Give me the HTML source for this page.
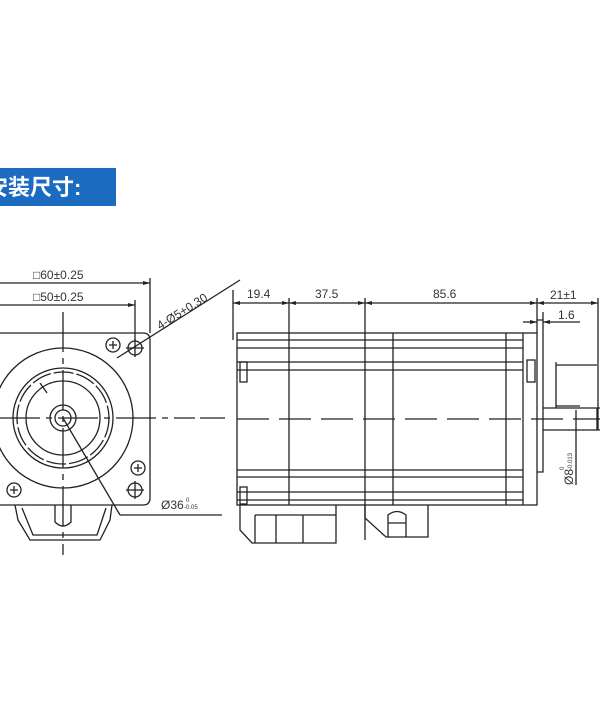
<!DOCTYPE html>
<html><head><meta charset="utf-8"><style>
html,body{margin:0;padding:0;background:#fff;}
svg{display:block;}
text{font-family:"Liberation Sans","DejaVu Sans",sans-serif;fill:#333;}
</style></head><body>
<svg width="600" height="720" viewBox="0 0 600 720" xmlns="http://www.w3.org/2000/svg">
<rect x="0" y="0" width="600" height="720" fill="#fff"/>
<rect x="0" y="168" width="116" height="38" fill="#1b6cc0"/>
<text x="-14" y="195" font-size="22" font-weight="bold" style="fill:#fff;font-family:'Liberation Sans','Noto Sans CJK SC',sans-serif">安装尺寸:</text>

<g stroke="#222" stroke-width="1.3" fill="none">
<!-- LEFT VIEW -->
<line x1="0" y1="283" x2="150" y2="283"/><line x1="150" y1="278" x2="150" y2="333"/>
<line x1="0" y1="305" x2="135" y2="305"/><line x1="135" y1="300" x2="135" y2="341"/>
<path d="M-20 333 H143 Q150 333 150 340 V498 Q150 505 143 505 H-20"/>
<circle cx="63" cy="418" r="70"/>
<circle cx="63" cy="418" r="50"/>
<circle cx="63" cy="418" r="46" stroke-dasharray="20 3"/>
<circle cx="63" cy="418" r="37"/>
<circle cx="63" cy="418" r="13"/>
<circle cx="63" cy="418" r="8"/>
<line x1="63" y1="312" x2="63" y2="555" stroke-dasharray="40 6 6 6"/>
<line x1="0" y1="418" x2="195" y2="418" stroke-dasharray="40 6 6 6"/>
<line x1="200" y1="418" x2="225" y2="418"/>
<!-- holes -->
<circle cx="135" cy="348" r="7"/><line x1="126" y1="348" x2="144" y2="348"/><line x1="135" y1="339" x2="135" y2="357"/>
<circle cx="135" cy="490" r="7"/><line x1="126" y1="490" x2="144" y2="490"/><line x1="135" y1="481" x2="135" y2="499"/>
<circle cx="113" cy="345" r="7"/><path d="M109 345h8M113 341v8"/>
<circle cx="138" cy="468" r="7"/><path d="M134 468h8M138 464v8"/>
<circle cx="14" cy="490" r="7"/><path d="M10 490h8M14 486v8"/>
<!-- leaders -->
<line x1="117" y1="358" x2="240" y2="280"/>
<line x1="40" y1="383" x2="47" y2="393"/>
<line x1="63" y1="418" x2="120" y2="515"/><line x1="120" y1="515" x2="222" y2="515"/>
<!-- bottom connector -->
<path d="M15 505 L18 520 L30 540 H100 L110 520 L112 505"/>
<path d="M22 508 L33 535 H97 L106 508"/>
<path d="M55 505 V522 Q63 530 71 522 V505"/>

<!-- RIGHT VIEW -->
<line x1="233" y1="290" x2="233" y2="340"/>
<line x1="289" y1="298" x2="289" y2="505"/>
<line x1="365" y1="298" x2="365" y2="540"/>
<line x1="537" y1="298" x2="537" y2="333"/>
<line x1="543" y1="312" x2="543" y2="320"/>
<line x1="598" y1="298" x2="598" y2="430"/>
<line x1="233" y1="303" x2="598" y2="303"/>
<line x1="523" y1="322" x2="537" y2="322"/><line x1="543" y1="322" x2="580" y2="322"/>
<rect x="237" y="333" width="300" height="172"/>
<line x1="393" y1="333" x2="393" y2="505"/>
<line x1="506" y1="333" x2="506" y2="505"/>
<line x1="523" y1="333" x2="523" y2="505"/>
<path d="M237 340H523M237 348H523M237 362H523M237 370H523"/>
<path d="M237 470H523M237 477H523M237 492H523M237 500H523"/>
<rect x="240" y="362" width="7" height="20"/><rect x="240" y="487" width="7" height="17"/>
<rect x="527" y="360" width="8" height="22"/>
<path d="M537 320 H543 V472 H537"/>
<line x1="237" y1="419" x2="600" y2="419" stroke-dasharray="32 10"/>
<!-- shaft -->
<path d="M543 408 H600 M543 430 H600 M597 408 V430"/>
<path d="M556 362 V408 M556 365 H597 M556 406 H580"/>
<line x1="576" y1="410" x2="576" y2="485"/>
<!-- connectors right -->
<path d="M240 505 V530 L252 543 H336 V505"/>
<path d="M255 515 V543 M276 515 V543 M303 515 V543 M255 515 H336"/>
<path d="M365 505 V518 L386 537 H428 V505"/>
<path d="M388 537 V515 Q397 508 406 515 V537 M388 523 H406"/>
</g>
<g fill="#222">
<path d="M150 283l-7 -2v4z"/><path d="M135 305l-7 -2v4z"/>
<path d="M233 303l7 -2v4z"/><path d="M289 303l-7 -2v4z"/><path d="M289 303l7 -2v4z"/>
<path d="M365 303l-7 -2v4z"/><path d="M365 303l7 -2v4z"/><path d="M537 303l-7 -2v4z"/>
<path d="M537 303l7 -2v4z"/><path d="M598 303l-7 -2v4z"/>
<path d="M537 322l-7 -2v4z"/><path d="M543 322l7 -2v4z"/>
</g>
<g font-size="12">
<text x="33" y="279">□60±0.25</text>
<text x="33" y="301">□50±0.25</text>
<text x="0" y="0" transform="translate(160 330) rotate(-32)">4-Ø5+0.30</text>
<text x="161" y="509">Ø36</text>
<text x="186" y="502" font-size="6">0</text><text x="184" y="509" font-size="6">-0.05</text>
<text x="247" y="298">19.4</text>
<text x="315" y="298">37.5</text>
<text x="433" y="298">85.6</text>
<text x="550" y="299">21±1</text>
<text x="558" y="319">1.6</text>
<text x="0" y="0" transform="translate(573 485) rotate(-90)">Ø8</text>
<text x="0" y="0" font-size="6" transform="translate(564 470) rotate(-90)">0</text>
<text x="0" y="0" font-size="6" transform="translate(572 470) rotate(-90)">-0.013</text>
</g>
</svg>
</body></html>
